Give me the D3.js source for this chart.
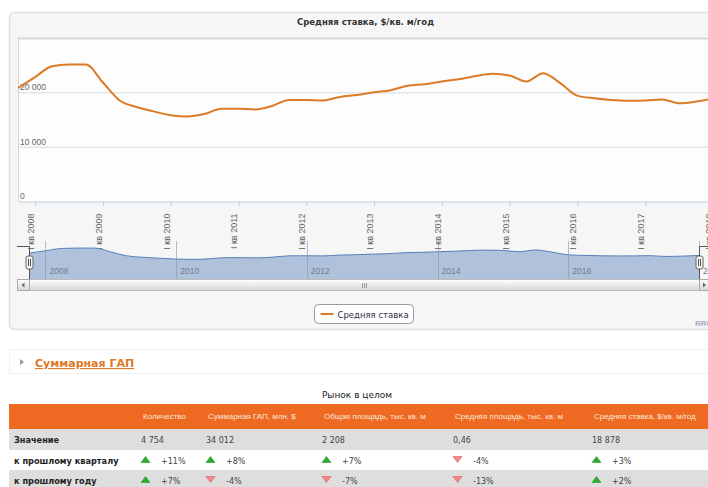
<!DOCTYPE html>
<html>
<head>
<meta charset="utf-8">
<script src="https://cdn.jsdelivr.net/npm/d3@7"></script>
<style>
  body { margin: 0; background: #fff; }
  svg { display: block; font-family: "DejaVu Sans", Verdana, sans-serif; }
</style>
</head>
<body>
<svg id="chart" width="708" height="487"></svg>
<script>
// quarterly average rate, $/sq. m/year
const quarters = [
  "2007-Q4",
  "2008-Q1", "2008-Q2", "2008-Q3", "2008-Q4",
  "2009-Q1", "2009-Q2", "2009-Q3", "2009-Q4",
  "2010-Q1", "2010-Q2", "2010-Q3", "2010-Q4",
  "2011-Q1", "2011-Q2", "2011-Q3", "2011-Q4",
  "2012-Q1", "2012-Q2", "2012-Q3", "2012-Q4",
  "2013-Q1", "2013-Q2", "2013-Q3", "2013-Q4",
  "2014-Q1", "2014-Q2", "2014-Q3", "2014-Q4",
  "2015-Q1", "2015-Q2", "2015-Q3", "2015-Q4",
  "2016-Q1", "2016-Q2", "2016-Q3", "2016-Q4",
  "2017-Q1", "2017-Q2", "2017-Q3", "2017-Q4",
  "2018-Q1"
];
const rates = [
  20800,
  22800, 24800, 25100, 25100,
  21800, 18500, 17300, 16500,
  15800, 15550, 16000, 17000,
  17000, 16850, 17500, 18600,
  18600, 18500, 19150, 19500,
  20000, 20400, 21200, 21500,
  22000, 22400, 23000, 23400,
  23100, 22000, 23500, 21700,
  19400, 18900, 18600, 18450,
  18500, 18700, 18000, 18300,
  18878
];
const yTicks = [0, 10000, 20000];
const yGrid = [10000, 20000, 30000];
const tickYears = [2008, 2009, 2010, 2011, 2012, 2013, 2014, 2015, 2016, 2017, 2018];
const navYears = [2008, 2010, 2012, 2014, 2016, 2018];

// summary table
const tableTitle = "Рынок в целом";
const tableColumns = ["Количество", "Суммарная ГАП, млн. $", "Общая площадь, тыс. кв. м",
                      "Средняя площадь, тыс. кв. м", "Средняя ставка, $/кв. м/год"];
const valueRow = ["4 754", "34 012", "2 208", "0,46", "18 878"];
const quarterChange = [11, 8, 7, -4, 3];
const yearChange = [7, -4, -7, -13, 2];

const ORANGE = "#db7b28";
const svg = d3.select("#chart");

const parseQ = s => {
  const [y, q] = s.split("-Q");
  return new Date(+y, (+q - 1) * 3, 1);
};
const data = quarters.map((q, i) => ({ date: parseQ(q), value: rates[i] }));

// --- panel ---
svg.append("rect")
  .attr("x", 9.5).attr("y", 12.5).attr("width", 730).attr("height", 317)
  .attr("rx", 5).attr("fill", "#f6f6f6").attr("stroke", "#e0e0e0").attr("stroke-width", 1.5);

const plot = { left: 18, top: 38, right: 713, bottom: 201 };

svg.append("text")
  .attr("x", (plot.left + plot.right) / 2).attr("y", 25)
  .attr("text-anchor", "middle")
  .style("font-size", "8.5px").style("font-weight", "bold").attr("fill", "#333")
  .text("Средняя ставка, $/кв. м/год");

const x = d3.scaleTime()
  .domain([data[0].date, data[data.length - 1].date])
  .range([plot.left, plot.right]);
const y = d3.scaleLinear().domain([0, 30000]).range([plot.bottom, plot.top]);

svg.append("rect")
  .attr("x", plot.left).attr("y", plot.top)
  .attr("width", plot.right - plot.left).attr("height", plot.bottom - plot.top)
  .attr("fill", "#fdfdfd");

// gridlines
svg.append("g").selectAll("line").data(yGrid).join("line")
  .attr("x1", plot.left).attr("x2", plot.right)
  .attr("y1", d => y(d) + 0.5).attr("y2", d => y(d) + 0.5)
  .attr("stroke", "#d8d8d8").attr("stroke-width", d => d === 30000 ? 2 : 1);
svg.append("line")
  .attr("x1", plot.left + 0.5).attr("x2", plot.left + 0.5)
  .attr("y1", plot.top).attr("y2", plot.bottom)
  .attr("stroke", "#d8d8d8");

// y labels inside the plot
svg.append("g").selectAll("text").data(yTicks).join("text")
  .attr("x", plot.left + 2).attr("y", d => y(d) - 2)
  .style("font-family", "'Liberation Sans', Arial, sans-serif")
  .style("font-size", "8.5px").attr("fill", "#666")
  .text(d => d3.format(",")(d).replace(/,/g, " "));

// x axis
const xAxis = svg.append("g")
  .attr("transform", `translate(0,${plot.bottom + 0.5})`)
  .call(d3.axisBottom(x)
    .tickValues(tickYears.map(yr => new Date(yr, 0, 1)))
    .tickFormat(d => "I кв " + d.getFullYear())
    .tickSize(5).tickSizeOuter(0));
xAxis.select(".domain").attr("stroke", "#c0d0e0");
xAxis.selectAll(".tick line").attr("stroke", "#c0d0e0");
xAxis.selectAll(".tick text")
  .attr("transform", "rotate(-90)")
  .attr("text-anchor", "end")
  .attr("x", -12).attr("y", -1.5).attr("dy", null)
  .style("font-family", "'Liberation Sans', Arial, sans-serif")
  .style("font-size", "9px").attr("fill", "#666");

// series line
svg.append("clipPath").attr("id", "plotClip")
  .append("rect")
  .attr("x", plot.left).attr("y", plot.top)
  .attr("width", plot.right - plot.left).attr("height", plot.bottom - plot.top);

const line = d3.line()
  .x(d => x(d.date)).y(d => y(d.value))
  .curve(d3.curveMonotoneX);
svg.append("path")
  .datum(data)
  .attr("clip-path", "url(#plotClip)")
  .attr("d", line)
  .attr("fill", "none").attr("stroke", ORANGE).attr("stroke-width", 2);

// --- navigator ---
const nav = { left: 29, right: 699, top: 246, bottom: 279 };
const nx = d3.scaleTime()
  .domain([data[0].date, data[data.length - 1].date])
  .range([nav.left, nav.right]);
const ny = d3.scaleLinear().domain([-1000, 26000]).range([nav.bottom, nav.top + 1]);

svg.append("path")
  .datum(data)
  .attr("d", d3.area().x(d => nx(d.date)).y0(nav.bottom).y1(d => ny(d.value)).curve(d3.curveMonotoneX))
  .attr("fill", "#b0c2db");
svg.append("path")
  .datum(data)
  .attr("d", d3.line().x(d => nx(d.date)).y(d => ny(d.value)).curve(d3.curveMonotoneX))
  .attr("fill", "none").attr("stroke", "#5680b8").attr("stroke-width", 1);

const navGrid = svg.append("g");
navGrid.selectAll("line").data(navYears).join("line")
  .attr("x1", d => Math.round(nx(new Date(d, 0, 1))) + 0.5)
  .attr("x2", d => Math.round(nx(new Date(d, 0, 1))) + 0.5)
  .attr("y1", nav.top - 5).attr("y2", nav.bottom)
  .attr("stroke", "#8595ad").attr("stroke-opacity", 0.6);
navGrid.selectAll("text").data(navYears).join("text")
  .attr("x", d => nx(new Date(d, 0, 1)) + 4).attr("y", 274)
  .style("font-family", "'Liberation Sans', Arial, sans-serif")
  .style("font-size", "8.5px").attr("fill", "#707b8a")
  .text(d => d);

// outline of the selected range and handles
svg.append("path")
  .attr("d", `M17,${nav.top + 0.5}H${nav.left + 0.5}V${nav.bottom}M${nav.right + 0.5},${nav.bottom}V${nav.top + 0.5}H712`)
  .attr("fill", "none").attr("stroke", "#555");
[nav.left, nav.right].forEach(hx => {
  const h = svg.append("g").attr("transform", `translate(${hx + 0.5},263)`);
  h.append("rect").attr("x", -3.5).attr("y", -7).attr("width", 7).attr("height", 13).attr("rx", 2)
    .attr("fill", "#f3f3f3").attr("stroke", "#666");
  h.append("line").attr("x1", -1).attr("x2", -1).attr("y1", -4).attr("y2", 3).attr("stroke", "#555");
  h.append("line").attr("x1", 1).attr("x2", 1).attr("y1", -4).attr("y2", 3).attr("stroke", "#555");
});

// scrollbar
const grad = svg.append("defs").append("linearGradient")
  .attr("id", "sbGrad").attr("x1", 0).attr("y1", 0).attr("x2", 0).attr("y2", 1);
grad.append("stop").attr("offset", "0%").attr("stop-color", "#ffffff");
grad.append("stop").attr("offset", "100%").attr("stop-color", "#d6d6d6");
svg.append("rect").attr("x", 17.5).attr("y", 279.5).attr("width", 700).attr("height", 11)
  .attr("fill", "#eee").attr("stroke", "#bbb");
svg.append("rect").attr("x", 29.5).attr("y", 279.5).attr("width", 670).attr("height", 11)
  .attr("fill", "url(#sbGrad)").attr("stroke", "#bbb");
svg.append("rect").attr("x", 17.5).attr("y", 279.5).attr("width", 12).attr("height", 11)
  .attr("fill", "url(#sbGrad)").attr("stroke", "#aaa");
svg.append("rect").attr("x", 699.5).attr("y", 279.5).attr("width", 12).attr("height", 11)
  .attr("fill", "url(#sbGrad)").attr("stroke", "#aaa");
svg.append("path").attr("d", "M21.5,285L24.5,282.5V287.5Z").attr("fill", "#666");
svg.append("path").attr("d", "M706,285L703,282.5V287.5Z").attr("fill", "#666");
[-2, 0, 2].forEach(dx => {
  svg.append("line").attr("x1", 364.5 + dx).attr("x2", 364.5 + dx).attr("y1", 283).attr("y2", 288)
    .attr("stroke", "#999");
});

// legend
const lg = svg.append("g").attr("transform", "translate(314.5,304.5)");
lg.append("rect").attr("width", 99).attr("height", 19).attr("rx", 4)
  .attr("fill", "#fff").attr("stroke", "#9a9a9a");
lg.append("line").attr("x1", 6).attr("x2", 19).attr("y1", 9.5).attr("y2", 9.5)
  .attr("stroke", ORANGE).attr("stroke-width", 2);
lg.append("text").attr("x", 23).attr("y", 13).style("font-size", "8.5px").attr("fill", "#2f2f45")
  .text("Средняя ставка");

svg.append("text").attr("x", 695).attr("y", 326)
  .style("font-family", "'Liberation Sans', Arial, sans-serif")
  .style("font-size", "8px").style("font-weight", "bold").attr("fill", "#aab")
  .text("RRG");

// --- collapsed section ---
svg.append("rect").attr("x", 9.5).attr("y", 349.5).attr("width", 730).attr("height", 24)
  .attr("fill", "#fff").attr("stroke", "#f0f0f0");
svg.append("path").attr("d", "M20,359L24,362L20,365Z").attr("fill", "#999");
svg.append("text").attr("x", 35).attr("y", 367)
  .style("font-size", "11px").style("font-weight", "bold")
  .attr("fill", "#e0782a").style("text-decoration", "underline")
  .text("Суммарная ГАП");

// --- table ---
svg.append("text").attr("x", 357).attr("y", 398).attr("text-anchor", "middle")
  .style("font-size", "9px").attr("fill", "#222")
  .text(tableTitle);

const colX = d3.scaleOrdinal().domain(d3.range(tableColumns.length)).range([141, 206, 322, 453, 592]);
const rowsY = { header: [404, 429], value: [429, 450], quarter: [450, 470], year: [470, 491] };

svg.append("rect").attr("x", 9).attr("y", rowsY.header[0]).attr("width", 730)
  .attr("height", rowsY.header[1] - rowsY.header[0]).attr("fill", "#ee6a22");
svg.append("g").selectAll("text").data(tableColumns).join("text")
  .attr("x", (d, i) => colX(i) + 2).attr("y", 419)
  .style("font-family", "'Liberation Sans', Arial, sans-serif")
  .style("font-size", "8px").attr("fill", "#fde6d8")
  .text(d => d);

const bodyRows = [
  { key: "value", label: "Значение", fill: "#dedede" },
  { key: "quarter", label: "к прошлому кварталу", fill: "#ffffff", changes: quarterChange },
  { key: "year", label: "к прошлому году", fill: "#dedede", changes: yearChange }
];
bodyRows.forEach(r => {
  const [y0, y1] = rowsY[r.key];
  const g = svg.append("g");
  g.append("rect").attr("x", 9).attr("y", y0).attr("width", 730).attr("height", y1 - y0).attr("fill", r.fill);
  const base = y0 + 13.5;
  g.append("text").attr("x", 14).attr("y", base)
    .style("font-size", "8.2px").style("font-weight", "bold").attr("fill", "#222")
    .text(r.label);
  if (!r.changes) {
    g.selectAll("text.v").data(valueRow).join("text").attr("class", "v")
      .attr("x", (d, i) => colX(i)).attr("y", base)
      .style("font-size", "8px").attr("fill", "#444")
      .text(d => d);
  } else {
    g.selectAll("path.t").data(r.changes).join("path").attr("class", "t")
      .attr("transform", (d, i) => `translate(${colX(i) + 4.5},${base - 4})`)
      .attr("d", d => d > 0 ? "M-4.5,3L0,-3L4.5,3Z" : "M-4.5,-3L0,3L4.5,-3Z")
      .attr("fill", d => d > 0 ? "#2fa82f" : "#f28a8a")
      .attr("stroke", d => d > 0 ? "#2a9a2a" : "#e05a5a").attr("stroke-width", 0.6);
    g.selectAll("text.v").data(r.changes).join("text").attr("class", "v")
      .attr("x", (d, i) => colX(i) + 20).attr("y", base)
      .style("font-size", "8px").attr("fill", "#444")
      .text(d => (d > 0 ? "+" : "") + d + "%");
  }
});
</script>
</body>
</html>
